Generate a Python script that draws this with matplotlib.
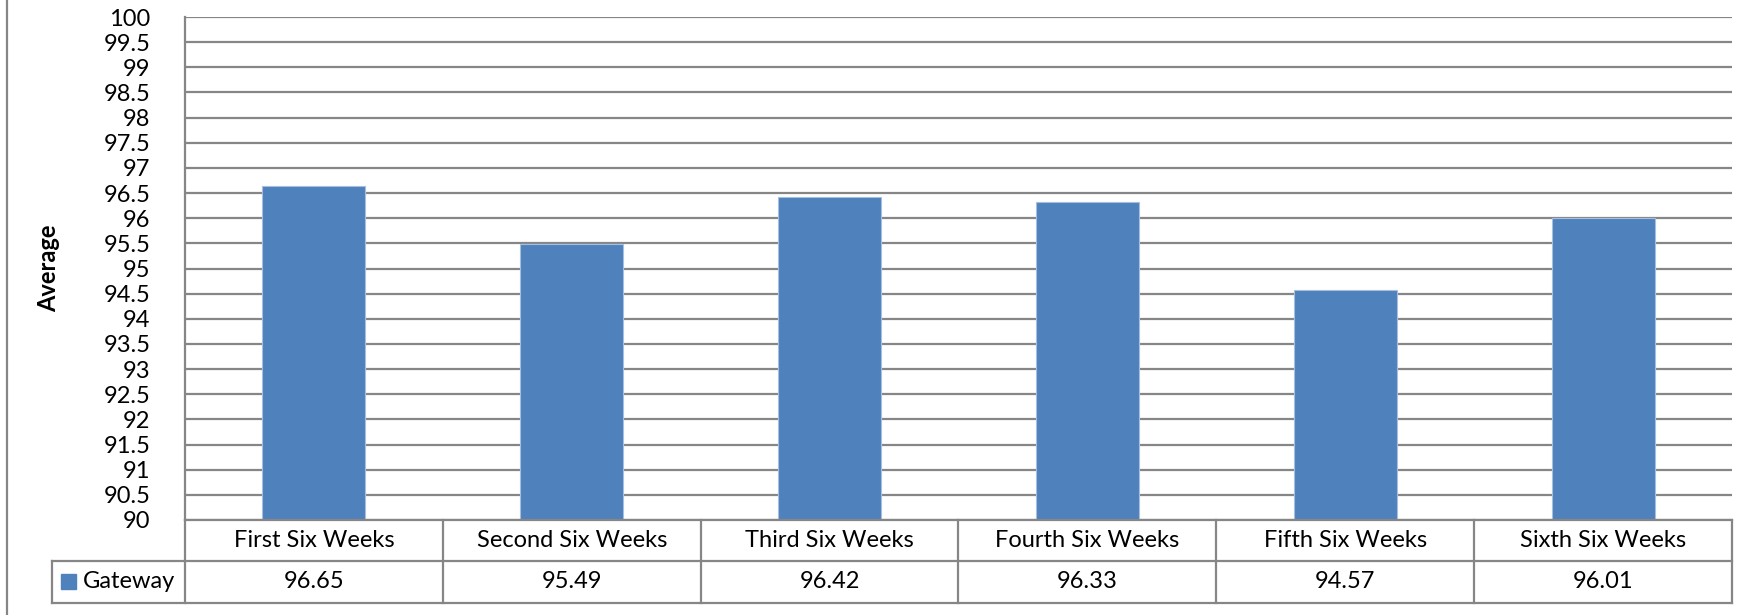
import numpy as np
import matplotlib
matplotlib.use('Agg')
import matplotlib.pyplot as plt
from matplotlib.lines import Line2D
from matplotlib.patches import Rectangle

# dati
categorie = ['First Six Weeks', 'Second Six Weeks', 'Third Six Weeks',
             'Fourth Six Weeks', 'Fifth Six Weeks', 'Sixth Six Weeks']
medie = [96.65, 95.49, 96.42, 96.33, 94.57, 96.01]
serie = 'Gateway'
yticks = np.arange(90, 100.01, 0.5)

plt.rcParams['font.family'] = ['Lato', 'DejaVu Sans']
blu = '#4F81BD'
grigio = '#868686'
W, H = 1758, 615
fs = 17

fig = plt.figure(figsize=(W / 100, H / 100), dpi=100)

def fx(px):
    return px / W

def fy(py):
    return 1 - py / H

x0, x1, ytop, ybot = 185, 1732, 17, 520
ax = fig.add_axes([fx(x0), fy(ybot), fx(x1) - fx(x0), fy(ytop) - fy(ybot)])

x = np.arange(len(categorie))
ax.bar(x, medie, width=0.4, color=blu, edgecolor='#A7BFDE', linewidth=0.8, zorder=3)
ax.set_xlim(-0.5, len(categorie) - 0.5)
ax.set_ylim(90, 100)
ax.set_yticks(yticks)
ax.set_yticklabels(['%g' % v for v in yticks], fontsize=fs)
ax.tick_params(axis='y', length=0, pad=25)
ax.set_xticks([])
ax.yaxis.grid(True, color=grigio, linewidth=1.6)
ax.set_axisbelow(True)
for s in ['top', 'right', 'bottom']:
    ax.spines[s].set_visible(False)
ax.spines['left'].set_color(grigio)
ax.spines['left'].set_linewidth(1.6)
ax.set_ylabel('Average', fontsize=fs, fontweight='bold', labelpad=0)
ax.yaxis.set_label_coords((60 - x0) / (x1 - x0), 0.5)

# tabella dati sotto il grafico
r1, r2, r3 = 520, 561, 603
leg_x = 52
def linea(xa, ya, xb, yb):
    fig.add_artist(Line2D([fx(xa), fx(xb)], [fy(ya), fy(yb)], color=grigio, linewidth=1.6))

linea(x0, r1, x1, r1)
linea(leg_x, r2, x1, r2)
linea(leg_x, r3, x1, r3)
linea(leg_x, r2, leg_x, r3)
passo = (x1 - x0) / len(categorie)
for i in range(len(categorie) + 1):
    linea(x0 + i * passo, r1, x0 + i * passo, r3)

for i, (c, v) in enumerate(zip(categorie, medie)):
    cx = x0 + (i + 0.5) * passo
    fig.text(fx(cx), fy((r1 + r2) / 2), c, ha='center', va='center', fontsize=fs)
    fig.text(fx(cx), fy((r2 + r3) / 2), '%.2f' % v, ha='center', va='center', fontsize=fs)

fig.add_artist(Rectangle((fx(61), fy(589)), fx(15), 15 / H, color=blu))
fig.text(fx(83), fy((r2 + r3) / 2), serie, ha='left', va='center', fontsize=fs)

# bordo sinistro dell'area del grafico
linea(7, 0, 7, H)

fig.savefig('out.png', dpi=100)
